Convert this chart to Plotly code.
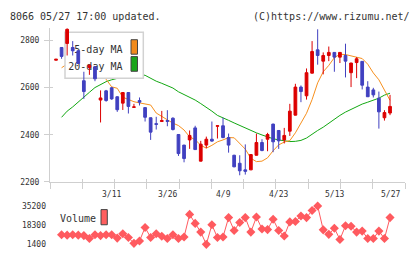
import plotly.graph_objects as go
import numpy as np

W, H = 420, 259

# ---------------- data ----------------
open_ = [2716, 2770, 2787, 2770, 2756, 2629, 2685, 2688, 2547, 2586,
         2599, 2561, 2534, 2579, 2516, 2545, 2515, 2472, 2447, 2456,
         2460, 2470, 2401, 2356, 2378, 2429, 2288, 2356, 2381, 2436,
         2438, 2388, 2313, 2279, 2251, 2251, 2313, 2367, 2381, 2445,
         2418, 2378, 2415, 2483, 2602, 2565, 2661, 2760, 2712, 2736,
         2749, 2729, 2736, 2663, 2706, 2711, 2602, 2590, 2555, 2472,
         2492]
high = [2721, 2771, 2852, 2797, 2758, 2667, 2697, 2690, 2588, 2590,
        2602, 2563, 2580, 2580, 2531, 2558, 2516, 2473, 2476, 2501,
        2504, 2474, 2402, 2357, 2418, 2438, 2374, 2392, 2456, 2439,
        2472, 2405, 2315, 2313, 2359, 2317, 2405, 2381, 2408, 2447,
        2419, 2429, 2531, 2616, 2609, 2681, 2797, 2847, 2749, 2774,
        2750, 2750, 2786, 2705, 2729, 2712, 2627, 2599, 2583, 2504,
        2569]
low = [2715, 2722, 2736, 2736, 2700, 2552, 2654, 2627, 2452, 2540,
       2548, 2497, 2505, 2490, 2514, 2524, 2456, 2378, 2422, 2455,
       2436, 2418, 2310, 2283, 2340, 2336, 2287, 2343, 2370, 2384,
       2385, 2324, 2262, 2228, 2231, 2250, 2312, 2330, 2330, 2326,
       2340, 2363, 2395, 2482, 2538, 2549, 2660, 2697, 2656, 2712,
       2667, 2704, 2643, 2602, 2640, 2592, 2560, 2558, 2426, 2460,
       2483]
close = [2720, 2732, 2847, 2756, 2702, 2583, 2695, 2637, 2556, 2545,
         2552, 2506, 2579, 2520, 2518, 2538, 2474, 2411, 2444, 2460,
         2457, 2422, 2320, 2299, 2397, 2337, 2360, 2381, 2373, 2438,
         2388, 2356, 2264, 2247, 2245, 2316, 2367, 2333, 2401, 2370,
         2374, 2397, 2500, 2602, 2583, 2663, 2753, 2736, 2736, 2749,
         2729, 2749, 2712, 2704, 2722, 2610, 2561, 2569, 2497, 2494,
         2520]
volume = [None, 9900, 9500, 9900, 9500, 9100, 6500, 9900, 9100, 9900,
          9900, 6900, 10800, 7400, 2300, 4400, 16300, 7400, 10800, 8600,
          6500, 9900, 6500, 7900, 27800, 19900, 12200, 1400, 18700, 7400,
          7900, 25000, 13600, 20700, 25000, 12200, 25500, 15000, 14400, 23500,
          13600, 8800, 21200, 21600, 26400, 25000, 31200, 35200, 14200, 10200,
          15600, 5700, 17800, 17300, 12200, 13100, 6500, 6500, 13100, 6500,
          25000]
ma5 = [None, 2684, 2700, 2725, 2745, 2751, 2724, 2717, 2675, 2635,
       2603, 2597, 2559, 2548, 2540, 2535, 2532, 2526, 2492, 2477,
       2465, 2449, 2439, 2420, 2391, 2379, 2355, 2343, 2355, 2370,
       2378, 2388, 2387, 2364, 2339, 2300, 2286, 2288, 2302, 2332,
       2357, 2369, 2375, 2408, 2449, 2491, 2549, 2620, 2667, 2694,
       2727, 2741, 2740, 2735, 2729, 2723, 2699, 2662, 2633, 2592,
       2546]
ma20 = [None, 2474, 2500, 2518, 2540, 2558, 2580, 2600, 2614, 2625,
        2633, 2640, 2646, 2651, 2655, 2656, 2652, 2639, 2627, 2618,
        2607, 2598, 2582, 2570, 2560, 2547, 2532, 2517, 2500, 2482,
        2470, 2461, 2450, 2439, 2428, 2418, 2408, 2399, 2390, 2383,
        2378, 2373, 2371, 2372, 2376, 2386, 2403, 2418, 2432, 2449,
        2468, 2482, 2496, 2508, 2520, 2530, 2538, 2546, 2555, 2568,
        2576]
date_index = [10, 20, 30, 40, 50, 60]
date_labels = ["3/11", "3/26", "4/9", "4/23", "5/13", "5/27"]
price_ticks = [2200, 2400, 2600, 2800]
vol_ticks = [1400, 18300, 35200]

x = list(range(len(close)))

# ---------------- geometry ----------------
PL, PR = 50, 405
MT, MB = 25, 184.3
VT, VB = 209.3, 249
XR = [-1.08, 62.69]
YR = [2200, 2852]
VR = [1400, 35200]

def fx(p):
    return p / W

def fy(p):
    return 1 - p / H

def dx(p):
    return XR[0] + (p - PL) / (PR - PL) * (XR[1] - XR[0])

def dy(p):
    return YR[1] - (p - MT) / (MB - MT) * (YR[1] - YR[0])

RED = "#dc0000"
BLUE = "#4040c0"
ORANGE = "#f7901e"
GREEN = "#12a812"
VOL = "#ff5a5f"
AX = "#cfcfcf"
TXT = "#333333"
MONO = "DejaVu Sans Mono"

fig = go.Figure()
fig.add_trace(go.Scatter(x=x, y=ma20, mode="lines", line=dict(color=GREEN, width=1),
                         xaxis="x", yaxis="y", hoverinfo="skip"))
fig.add_trace(go.Scatter(x=x, y=ma5, mode="lines", line=dict(color=ORANGE, width=1),
                         xaxis="x", yaxis="y", hoverinfo="skip"))
fig.add_trace(go.Candlestick(x=x, open=open_, high=high, low=low, close=close,
                             xaxis="x2", yaxis="y2", whiskerwidth=0,
                             increasing=dict(line=dict(color=RED, width=1), fillcolor=RED),
                             decreasing=dict(line=dict(color=BLUE, width=1), fillcolor=BLUE),
                             hoverinfo="skip"))
fig.add_trace(go.Scatter(x=x, y=volume, mode="lines+markers", xaxis="x3", yaxis="y3",
                         line=dict(color=VOL, width=1),
                         marker=dict(symbol="diamond", size=7, color=VOL),
                         cliponaxis=False, hoverinfo="skip"))

xticks = list(np.linspace(XR[0], XR[1], 12))
xdom = [fx(PL), fx(PR)]
ydom = [fy(MB), fy(MT)]
common = dict(showgrid=False, zeroline=False)

fig.update_layout(
    width=W, height=H, margin=dict(l=0, r=0, t=0, b=0),
    paper_bgcolor="white", plot_bgcolor="rgba(0,0,0,0)", showlegend=False, hovermode=False,
    xaxis=dict(domain=xdom, range=XR, anchor="y", showline=True, linecolor=AX, linewidth=1,
               ticks="outside", ticklen=6, tickcolor=AX, tickwidth=1, tickvals=xticks,
               showticklabels=False, **common),
    yaxis=dict(domain=ydom, range=YR, anchor="x", showline=True, linecolor=AX, linewidth=1,
               ticks="outside", ticklen=5, tickcolor=AX, tickwidth=1, tickvals=price_ticks,
               tickfont=dict(family=MONO, size=8, color=TXT), ticklabelstandoff=3, **common),
    xaxis2=dict(domain=xdom, range=XR, anchor="y2", showline=False, ticks="inside", ticklen=3,
                tickcolor=AX, tickwidth=1, tickvals=xticks, showticklabels=False,
                rangeslider=dict(visible=False), **common),
    yaxis2=dict(domain=ydom, range=YR, anchor="x2", showline=False, ticks="inside", ticklen=3,
                tickcolor=AX, tickwidth=1, tickvals=price_ticks, showticklabels=False, **common),
    xaxis3=dict(domain=xdom, range=XR, anchor="y3", visible=False, **common),
    yaxis3=dict(domain=[fy(VB), fy(VT)], range=VR, anchor="x3", showline=False, ticks="",
                tickvals=vol_ticks, ticktext=[str(v) for v in vol_ticks],
                tickfont=dict(family=MONO, size=8, color=TXT), ticklabelstandoff=3, **common),
)

shapes = [
    dict(type="rect", xref="x2", yref="y2", x0=dx(65), x1=dx(143.3), y0=dy(77), y1=dy(29.3),
         fillcolor="white", line=dict(color="#d2d2d2", width=1.5), layer="below"),
    dict(type="rect", xref="x2", yref="y2", x0=dx(131), x1=dx(137.5), y0=dy(52), y1=dy(37),
         fillcolor="#f08a1c", line=dict(color="#444", width=1), layer="below"),
    dict(type="rect", xref="x2", yref="y2", x0=dx(131), x1=dx(137.5), y0=dy(69.7), y1=dy(54.5),
         fillcolor="#1aa51a", line=dict(color="#444", width=1), layer="below"),
    dict(type="rect", xref="x2", yref="y2", x0=dx(68), x1=dx(125.5), y0=dy(52), y1=dy(40),
         fillcolor="rgba(0,0,0,0)", line=dict(width=0), layer="below",
         label=dict(text="5-day MA", textposition="middle right", padding=0,
                    font=dict(family=MONO, size=10, color=TXT))),
    dict(type="rect", xref="x2", yref="y2", x0=dx(68), x1=dx(125.5), y0=dy(69.5), y1=dy(57.5),
         fillcolor="rgba(0,0,0,0)", line=dict(width=0), layer="below",
         label=dict(text="20-day MA", textposition="middle right", padding=0,
                    font=dict(family=MONO, size=10, color=TXT))),
    dict(type="rect", xref="paper", yref="paper", x0=fx(101), x1=fx(107.3), y0=fy(228.7), y1=fy(213),
         fillcolor="#ff5f5f", line=dict(color="#444", width=1)),
]
fig.update_layout(shapes=shapes)

ann = [
    dict(text="8066 05/27 17:00 updated.", xref="paper", yref="paper", x=fx(8), y=fy(13),
         xanchor="left", yanchor="middle", showarrow=False, font=dict(family=MONO, size=10, color=TXT)),
    dict(text="(C)https://www.rizumu.net/", xref="paper", yref="paper", x=fx(412), y=fy(13),
         xanchor="right", yanchor="middle", showarrow=False, font=dict(family=MONO, size=10, color=TXT)),
    dict(text="Volume", xref="paper", yref="paper", x=fx(58), y=fy(222),
         xanchor="left", yanchor="middle", showarrow=False, font=dict(family=MONO, size=10, color=TXT)),
]
for i, lab in zip(date_index, date_labels):
    ann.append(dict(text=lab, xref="x", yref="paper", x=i, y=fy(197.5), xanchor="center",
                    yanchor="middle", showarrow=False, font=dict(family=MONO, size=8, color=TXT)))
fig.update_layout(annotations=ann)

fig.write_html("out.html")
